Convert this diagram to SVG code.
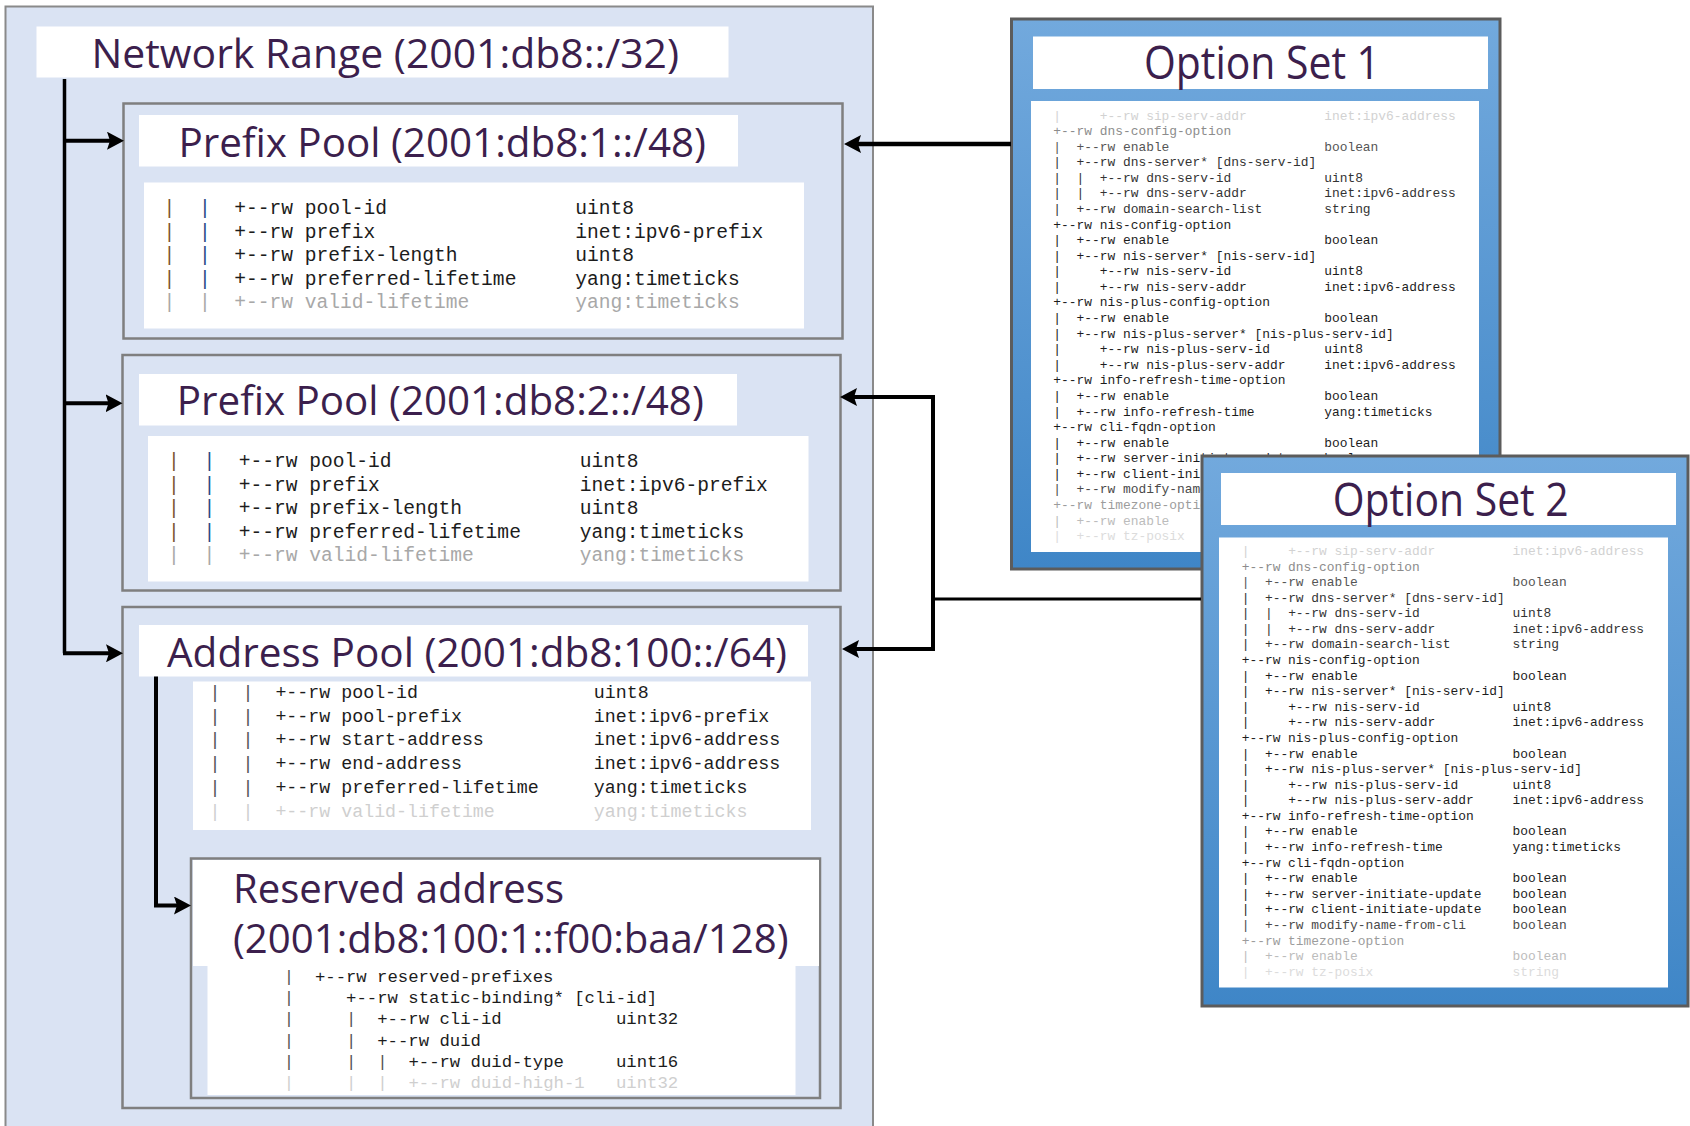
<svg xmlns="http://www.w3.org/2000/svg" width="1690" height="1126" viewBox="0 0 1690 1126">
<defs>
<style>
.bg{fill:#dae3f3;stroke:#8a8a8a;stroke-width:2}
.pool{fill:#dae3f3;stroke:#7f7f7f;stroke-width:2.5}
.wb{fill:#ffffff}
.title{font-family:"Open Sans","Noto Sans","Liberation Sans",sans-serif;fill:#3c1f4d;font-size:40px}
.otitle{font-family:"Open Sans","Noto Sans","Liberation Sans",sans-serif;fill:#3c1f4d;font-size:45px}
.mono{font-family:"Liberation Mono","DejaVu Sans Mono",monospace;fill:#1c1c1c}
.p1{font-size:19.6px}
.p3{font-size:18.3px}
.p4{font-size:17.3px}
.os{font-size:12.9px}
.opt{fill:url(#blue);stroke:#5c5c5c;stroke-width:3}
.conn{fill:none;stroke:#000;stroke-width:4}
.br{fill:#7a5530}.bb{fill:#284a86}.bd{fill:#555}
.fa{fill:#a8a8a8}.fb{fill:#cfcfcf}
.f0{fill:#d2d2d2}.f1{fill:#8c8c8c}.f2{fill:#555}.f3{fill:#333}.f24{fill:#4a4a4a}.f25{fill:#9c9c9c}.f26{fill:#bcbcbc}.f27{fill:#dcdcdc}
</style>
<linearGradient id="blue" x1="0" y1="0" x2="0" y2="1">
<stop offset="0" stop-color="#72a9dd"/><stop offset="1" stop-color="#3f86c7"/>
</linearGradient>
<marker id="arr" markerUnits="userSpaceOnUse" markerWidth="17" markerHeight="18" viewBox="0 0 17 18" refX="7" refY="9" orient="auto">
<path d="M0,0 L17,9 L0,18 L3,9 z" fill="#000"/>
</marker>
</defs>
<rect width="1690" height="1126" fill="#ffffff"/>

<g id="network-range">
<rect class="bg" x="5.5" y="6.5" width="867.5" height="1130"/>
<rect class="wb" x="36.5" y="26.5" width="692" height="51"/>
<text class="title" x="91.5" y="68" textLength="587.5" lengthAdjust="spacingAndGlyphs">Network Range (2001:db8::/32)</text>
</g>

<g id="prefix-pool-1">
<rect class="pool" x="123.5" y="103.5" width="719" height="235"/>
<rect class="wb" x="139" y="115" width="599" height="51.5"/>
<text class="title" x="178.5" y="157" textLength="527.5" lengthAdjust="spacingAndGlyphs">Prefix Pool (2001:db8:1::/48)</text>
<rect class="wb" x="144" y="182.5" width="660" height="146"/>
<g class="mono p1">
<text y="214"><tspan class="br" x="163.6">|</tspan><tspan class="bb" x="198.9">|</tspan><tspan x="234.2">+--rw pool-id</tspan><tspan x="575.2">uint8</tspan></text>
<text y="238"><tspan class="br" x="163.6">|</tspan><tspan class="bb" x="198.9">|</tspan><tspan x="234.2">+--rw prefix</tspan><tspan x="575.2">inet:ipv6-prefix</tspan></text>
<text y="261"><tspan class="br" x="163.6">|</tspan><tspan class="bb" x="198.9">|</tspan><tspan x="234.2">+--rw prefix-length</tspan><tspan x="575.2">uint8</tspan></text>
<text y="284.5"><tspan class="br" x="163.6">|</tspan><tspan class="bb" x="198.9">|</tspan><tspan x="234.2">+--rw preferred-lifetime</tspan><tspan x="575.2">yang:timeticks</tspan></text>
<text y="308" class="fa"><tspan x="163.6">|</tspan><tspan x="198.9">|</tspan><tspan x="234.2">+--rw valid-lifetime</tspan><tspan x="575.2">yang:timeticks</tspan></text>
</g>
</g>

<g id="prefix-pool-2">
<rect class="pool" x="122.5" y="355" width="718" height="235.5"/>
<rect class="wb" x="139" y="374" width="598" height="51.5"/>
<text class="title" x="176.8" y="415" textLength="527" lengthAdjust="spacingAndGlyphs">Prefix Pool (2001:db8:2::/48)</text>
<rect class="wb" x="148" y="436" width="660.5" height="145.5"/>
<g class="mono p1">
<text y="467"><tspan class="br" x="168.1">|</tspan><tspan class="bb" x="203.4">|</tspan><tspan x="238.7">+--rw pool-id</tspan><tspan x="579.7">uint8</tspan></text>
<text y="490.5"><tspan class="br" x="168.1">|</tspan><tspan class="bb" x="203.4">|</tspan><tspan x="238.7">+--rw prefix</tspan><tspan x="579.7">inet:ipv6-prefix</tspan></text>
<text y="514"><tspan class="br" x="168.1">|</tspan><tspan class="bb" x="203.4">|</tspan><tspan x="238.7">+--rw prefix-length</tspan><tspan x="579.7">uint8</tspan></text>
<text y="537.5"><tspan class="br" x="168.1">|</tspan><tspan class="bb" x="203.4">|</tspan><tspan x="238.7">+--rw preferred-lifetime</tspan><tspan x="579.7">yang:timeticks</tspan></text>
<text y="561" class="fa"><tspan x="168.1">|</tspan><tspan x="203.4">|</tspan><tspan x="238.7">+--rw valid-lifetime</tspan><tspan x="579.7">yang:timeticks</tspan></text>
</g>
</g>

<g id="address-pool">
<rect class="pool" x="122.5" y="607" width="718" height="501"/>
<rect class="wb" x="139" y="625" width="669" height="51.5"/>
<text class="title" x="167" y="667" textLength="620" lengthAdjust="spacingAndGlyphs">Address Pool (2001:db8:100::/64)</text>
<rect class="wb" x="193" y="681.5" width="618" height="148.5"/>
<g class="mono p3">
<text y="697.5"><tspan class="bd" x="209.5">|</tspan><tspan class="bd" x="242.4">|</tspan><tspan x="275.4">+--rw pool-id</tspan><tspan x="593.8">uint8</tspan></text>
<text y="721.5"><tspan class="bd" x="209.5">|</tspan><tspan class="bd" x="242.4">|</tspan><tspan x="275.4">+--rw pool-prefix</tspan><tspan x="593.8">inet:ipv6-prefix</tspan></text>
<text y="745"><tspan class="bd" x="209.5">|</tspan><tspan class="bd" x="242.4">|</tspan><tspan x="275.4">+--rw start-address</tspan><tspan x="593.8">inet:ipv6-address</tspan></text>
<text y="769"><tspan class="bd" x="209.5">|</tspan><tspan class="bd" x="242.4">|</tspan><tspan x="275.4">+--rw end-address</tspan><tspan x="593.8">inet:ipv6-address</tspan></text>
<text y="793"><tspan class="bd" x="209.5">|</tspan><tspan class="bd" x="242.4">|</tspan><tspan x="275.4">+--rw preferred-lifetime</tspan><tspan x="593.8">yang:timeticks</tspan></text>
<text y="817" class="fb"><tspan x="209.5">|</tspan><tspan x="242.4">|</tspan><tspan x="275.4">+--rw valid-lifetime</tspan><tspan x="593.8">yang:timeticks</tspan></text>
</g>
</g>

<g id="reserved-address">
<rect class="pool" x="191" y="858.5" width="629" height="239.5"/>
<rect class="wb" x="193" y="860" width="626" height="106"/>
<text class="title" x="233" y="903" textLength="331" lengthAdjust="spacingAndGlyphs">Reserved address</text>
<text class="title" x="233" y="953" textLength="555.5" lengthAdjust="spacingAndGlyphs">(2001:db8:100:1::f00:baa/128)</text>
<rect class="wb" x="207.5" y="966" width="588" height="129"/>
<g class="mono p4">
<text y="982"><tspan class="bd" x="283.8">|</tspan><tspan x="314.9">+--rw reserved-prefixes</tspan></text>
<text y="1003"><tspan class="bd" x="283.8">|</tspan><tspan x="346.1">+--rw static-binding* [cli-id]</tspan></text>
<text y="1024"><tspan class="bd" x="283.8">|</tspan><tspan class="bd" x="346.1">|</tspan><tspan x="377.2">+--rw cli-id</tspan><tspan x="616">uint32</tspan></text>
<text y="1045.5"><tspan class="bd" x="283.8">|</tspan><tspan class="bd" x="346.1">|</tspan><tspan x="377.2">+--rw duid</tspan></text>
<text y="1067"><tspan class="bd" x="283.8">|</tspan><tspan class="bd" x="346.1">|</tspan><tspan class="bd" x="377.2">|</tspan><tspan x="408.4">+--rw duid-type</tspan><tspan x="616">uint16</tspan></text>
<text y="1088" class="fb"><tspan x="283.8">|</tspan><tspan x="346.1">|</tspan><tspan x="377.2">|</tspan><tspan x="408.4">+--rw duid-high-1</tspan><tspan x="616">uint32</tspan></text>
</g>
</g>

<g id="option-set-1">
<rect class="opt" x="1011.5" y="19" width="488.5" height="550"/>
<rect class="wb" x="1033" y="36.5" width="455" height="52.5"/>
<text class="otitle" x="1144" y="79" textLength="236" lengthAdjust="spacingAndGlyphs">Option Set 1</text>
<rect class="wb" x="1031" y="101" width="448" height="451"/>
<g class="mono os" transform="translate(1053.3,119.5)">
<text class="f0" y="0"><tspan x="0">|</tspan><tspan x="46.44">+--rw sip-serv-addr</tspan><tspan x="270.9">inet:ipv6-address</tspan></text>
<text class="f1" y="15.58" x="0">+--rw dns-config-option</text>
<text class="f2" y="31.16"><tspan x="0">|</tspan><tspan x="23.22">+--rw enable</tspan><tspan x="270.9">boolean</tspan></text>
<text class="f3" y="46.74"><tspan x="0">|</tspan><tspan x="23.22">+--rw dns-server* [dns-serv-id]</tspan></text>
<text class="f3" y="62.32"><tspan x="0">|</tspan><tspan x="23.22">|</tspan><tspan x="46.44">+--rw dns-serv-id</tspan><tspan x="270.9">uint8</tspan></text>
<text class="f3" y="77.9"><tspan x="0">|</tspan><tspan x="23.22">|</tspan><tspan x="46.44">+--rw dns-serv-addr</tspan><tspan x="270.9">inet:ipv6-address</tspan></text>
<text class="f3" y="93.48"><tspan x="0">|</tspan><tspan x="23.22">+--rw domain-search-list</tspan><tspan x="270.9">string</tspan></text>
<text y="109.06" x="0">+--rw nis-config-option</text>
<text y="124.64"><tspan x="0">|</tspan><tspan x="23.22">+--rw enable</tspan><tspan x="270.9">boolean</tspan></text>
<text y="140.22"><tspan x="0">|</tspan><tspan x="23.22">+--rw nis-server* [nis-serv-id]</tspan></text>
<text y="155.8"><tspan x="0">|</tspan><tspan x="46.44">+--rw nis-serv-id</tspan><tspan x="270.9">uint8</tspan></text>
<text y="171.38"><tspan x="0">|</tspan><tspan x="46.44">+--rw nis-serv-addr</tspan><tspan x="270.9">inet:ipv6-address</tspan></text>
<text y="186.96" x="0">+--rw nis-plus-config-option</text>
<text y="202.54"><tspan x="0">|</tspan><tspan x="23.22">+--rw enable</tspan><tspan x="270.9">boolean</tspan></text>
<text y="218.12"><tspan x="0">|</tspan><tspan x="23.22">+--rw nis-plus-server* [nis-plus-serv-id]</tspan></text>
<text y="233.7"><tspan x="0">|</tspan><tspan x="46.44">+--rw nis-plus-serv-id</tspan><tspan x="270.9">uint8</tspan></text>
<text y="249.28"><tspan x="0">|</tspan><tspan x="46.44">+--rw nis-plus-serv-addr</tspan><tspan x="270.9">inet:ipv6-address</tspan></text>
<text y="264.86" x="0">+--rw info-refresh-time-option</text>
<text y="280.44"><tspan x="0">|</tspan><tspan x="23.22">+--rw enable</tspan><tspan x="270.9">boolean</tspan></text>
<text y="296.02"><tspan x="0">|</tspan><tspan x="23.22">+--rw info-refresh-time</tspan><tspan x="270.9">yang:timeticks</tspan></text>
<text y="311.6" x="0">+--rw cli-fqdn-option</text>
<text y="327.18"><tspan x="0">|</tspan><tspan x="23.22">+--rw enable</tspan><tspan x="270.9">boolean</tspan></text>
<text y="342.76"><tspan x="0">|</tspan><tspan x="23.22">+--rw server-initiate-update</tspan><tspan x="270.9">boolean</tspan></text>
<text y="358.34"><tspan x="0">|</tspan><tspan x="23.22">+--rw client-initiate-update</tspan><tspan x="270.9">boolean</tspan></text>
<text class="f24" y="373.92"><tspan x="0">|</tspan><tspan x="23.22">+--rw modify-name-from-cli</tspan><tspan x="270.9">boolean</tspan></text>
<text class="f25" y="389.5" x="0">+--rw timezone-option</text>
<text class="f26" y="405.08"><tspan x="0">|</tspan><tspan x="23.22">+--rw enable</tspan><tspan x="270.9">boolean</tspan></text>
<text class="f27" y="420.66"><tspan x="0">|</tspan><tspan x="23.22">+--rw tz-posix</tspan><tspan x="270.9">string</tspan></text>
</g>
</g>

<g id="option-set-2">
<rect class="opt" x="1202" y="456" width="486" height="550"/>
<rect class="wb" x="1221" y="473" width="455" height="52"/>
<text class="otitle" x="1332.7" y="515.7" textLength="236" lengthAdjust="spacingAndGlyphs">Option Set 2</text>
<rect class="wb" x="1219" y="537.5" width="449" height="450"/>
<g class="mono os" transform="translate(1241.7,555)">
<text class="f0" y="0"><tspan x="0">|</tspan><tspan x="46.44">+--rw sip-serv-addr</tspan><tspan x="270.9">inet:ipv6-address</tspan></text>
<text class="f1" y="15.58" x="0">+--rw dns-config-option</text>
<text class="f2" y="31.16"><tspan x="0">|</tspan><tspan x="23.22">+--rw enable</tspan><tspan x="270.9">boolean</tspan></text>
<text class="f3" y="46.74"><tspan x="0">|</tspan><tspan x="23.22">+--rw dns-server* [dns-serv-id]</tspan></text>
<text class="f3" y="62.32"><tspan x="0">|</tspan><tspan x="23.22">|</tspan><tspan x="46.44">+--rw dns-serv-id</tspan><tspan x="270.9">uint8</tspan></text>
<text class="f3" y="77.9"><tspan x="0">|</tspan><tspan x="23.22">|</tspan><tspan x="46.44">+--rw dns-serv-addr</tspan><tspan x="270.9">inet:ipv6-address</tspan></text>
<text class="f3" y="93.48"><tspan x="0">|</tspan><tspan x="23.22">+--rw domain-search-list</tspan><tspan x="270.9">string</tspan></text>
<text y="109.06" x="0">+--rw nis-config-option</text>
<text y="124.64"><tspan x="0">|</tspan><tspan x="23.22">+--rw enable</tspan><tspan x="270.9">boolean</tspan></text>
<text y="140.22"><tspan x="0">|</tspan><tspan x="23.22">+--rw nis-server* [nis-serv-id]</tspan></text>
<text y="155.8"><tspan x="0">|</tspan><tspan x="46.44">+--rw nis-serv-id</tspan><tspan x="270.9">uint8</tspan></text>
<text y="171.38"><tspan x="0">|</tspan><tspan x="46.44">+--rw nis-serv-addr</tspan><tspan x="270.9">inet:ipv6-address</tspan></text>
<text y="186.96" x="0">+--rw nis-plus-config-option</text>
<text y="202.54"><tspan x="0">|</tspan><tspan x="23.22">+--rw enable</tspan><tspan x="270.9">boolean</tspan></text>
<text y="218.12"><tspan x="0">|</tspan><tspan x="23.22">+--rw nis-plus-server* [nis-plus-serv-id]</tspan></text>
<text y="233.7"><tspan x="0">|</tspan><tspan x="46.44">+--rw nis-plus-serv-id</tspan><tspan x="270.9">uint8</tspan></text>
<text y="249.28"><tspan x="0">|</tspan><tspan x="46.44">+--rw nis-plus-serv-addr</tspan><tspan x="270.9">inet:ipv6-address</tspan></text>
<text y="264.86" x="0">+--rw info-refresh-time-option</text>
<text y="280.44"><tspan x="0">|</tspan><tspan x="23.22">+--rw enable</tspan><tspan x="270.9">boolean</tspan></text>
<text y="296.02"><tspan x="0">|</tspan><tspan x="23.22">+--rw info-refresh-time</tspan><tspan x="270.9">yang:timeticks</tspan></text>
<text y="311.6" x="0">+--rw cli-fqdn-option</text>
<text y="327.18"><tspan x="0">|</tspan><tspan x="23.22">+--rw enable</tspan><tspan x="270.9">boolean</tspan></text>
<text y="342.76"><tspan x="0">|</tspan><tspan x="23.22">+--rw server-initiate-update</tspan><tspan x="270.9">boolean</tspan></text>
<text y="358.34"><tspan x="0">|</tspan><tspan x="23.22">+--rw client-initiate-update</tspan><tspan x="270.9">boolean</tspan></text>
<text class="f24" y="373.92"><tspan x="0">|</tspan><tspan x="23.22">+--rw modify-name-from-cli</tspan><tspan x="270.9">boolean</tspan></text>
<text class="f25" y="389.5" x="0">+--rw timezone-option</text>
<text class="f26" y="405.08"><tspan x="0">|</tspan><tspan x="23.22">+--rw enable</tspan><tspan x="270.9">boolean</tspan></text>
<text class="f27" y="420.66"><tspan x="0">|</tspan><tspan x="23.22">+--rw tz-posix</tspan><tspan x="270.9">string</tspan></text>
</g>
</g>

<g id="connectors">
<path class="conn" style="stroke-width:3.5" d="M64.5,79 V653.3"/>
<path class="conn" d="M63,140.7 H114" marker-end="url(#arr)"/>
<path class="conn" d="M63,403.3 H112.5" marker-end="url(#arr)"/>
<path class="conn" d="M63,653.3 H113" marker-end="url(#arr)"/>
<path class="conn" d="M156,676.5 V905.5 H181" marker-end="url(#arr)"/>
<path class="conn" style="stroke-width:4.5" d="M1011,144 H854" marker-end="url(#arr)"/>
<path class="conn" style="stroke-width:3" d="M1201,599 H933"/>
<path class="conn" d="M933,395 V651"/>
<path class="conn" d="M935,397 H850" marker-end="url(#arr)"/>
<path class="conn" d="M935,649 H852" marker-end="url(#arr)"/>
</g>
</svg>
